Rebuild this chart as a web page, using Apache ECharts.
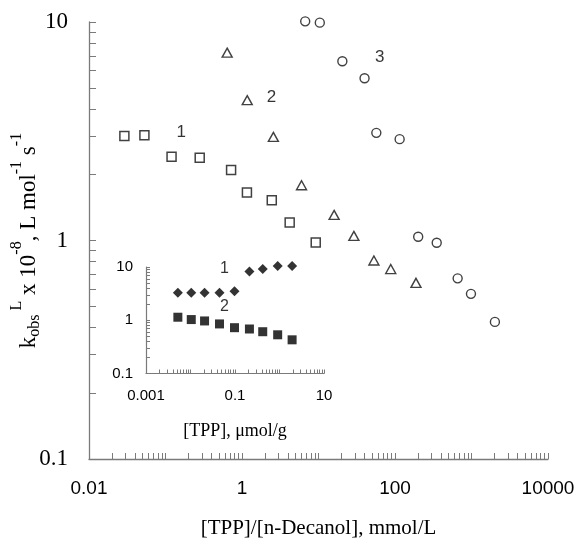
<!DOCTYPE html>
<html>
<head>
<meta charset="utf-8">
<script src="https://cdn.jsdelivr.net/npm/echarts@6/dist/echarts.min.js"></script>
<style>
html,body{margin:0;padding:0;background:#fff;}
#c{width:579px;height:544px;}
</style>
</head>
<body>
<div id="c"></div>
<script>
// ---- Main chart data ----
const series1X = [0.029, 0.053, 0.12, 0.28, 0.72, 1.16, 2.45, 4.2, 9.2];
const series1Y = [3.01, 3.03, 2.42, 2.39, 2.10, 1.66, 1.53, 1.21, 0.98];
const series2X = [0.64, 1.17, 2.57, 6.0, 16, 29, 53, 88, 188];
const series2Y = [7.24, 4.39, 2.98, 1.79, 1.31, 1.05, 0.81, 0.74, 0.64];
const series3X = [6.7, 10.4, 20.5, 40, 57, 115, 201, 351, 659, 984, 2023];
const series3Y = [10.07, 9.93, 6.61, 5.53, 3.11, 2.91, 1.04, 0.977, 0.671, 0.57, 0.424];
const mainLabelNames = ['1', '2', '3'];
const mainLabelX = [0.16, 2.43, 63];
const mainLabelY = [3.14, 4.54, 6.92];

// ---- Inset data ----
const insetX = [0.0052, 0.0104, 0.0207, 0.0449, 0.0974, 0.211, 0.42, 0.91, 1.92];
const inset1Y = [3.27, 3.27, 3.27, 3.27, 3.5, 8.2, 9.2, 10.4, 10.4];
const inset2Y = [1.14, 1.03, 0.97, 0.853, 0.725, 0.685, 0.609, 0.533, 0.429];
const insetLabelNames = ['1', '2'];
const insetLabelX = [0.058, 0.058];
const insetLabelY = [9.45, 1.77];

// ---- Tick labels ----
const mainXLabels = [0.01, 1, 100, 10000];
const mainYLabels = [0.1, 1, 10];
const insetXLabels = [0.001, 0.1, 10];
const insetYLabels = [0.1, 1, 10];

function logTicks(min, max) {
  const out = [];
  for (let e = Math.round(Math.log10(min)); e < Math.round(Math.log10(max)); e++) {
    for (let m = 1; m < 10; m++) out.push(+(m * Math.pow(10, e)).toPrecision(6));
  }
  out.push(max);
  return out;
}
function fmt(list) {
  return function (v) {
    let best = list[0], d = Infinity;
    for (const l of list) { const dd = Math.abs(Math.log10(l) - Math.log10(v)); if (dd < d) { d = dd; best = l; } }
    return String(best);
  };
}
const zip = (xs, ys) => xs.map((x, i) => [x, ys[i]]);

const AX = '#7a7a7a';
const SANS = 'Liberation Sans';
const SERIF = 'Liberation Serif';

const option = {
  animation: false,
  backgroundColor: '#fff',
  grid: [
    { left: 89, top: 22, right: 31, bottom: 85, outerBoundsMode: 'none', containLabel: false },
    { left: 146, top: 267, width: 178, height: 106.5, outerBoundsMode: 'none', containLabel: false }
  ],
  xAxis: [
    {
      type: 'log', logBase: 10, gridIndex: 0, min: 0.01, max: 10000,
      axisLine: { show: true, lineStyle: { color: AX, width: 1.3 } },
      axisTick: { show: true, inside: true, length: 6, customValues: logTicks(0.01, 10000), lineStyle: { color: AX, width: 1 } },
      axisLabel: { show: true, customValues: mainXLabels, formatter: fmt(mainXLabels), margin: 20, color: '#000', fontFamily: SANS, fontSize: 19 },
      splitLine: { show: false }, minorTick: { show: false },
      name: '[TPP]/[n-Decanol], mmol/L', nameLocation: 'middle', nameGap: 59, nameMoveOverlap: false,
      nameTextStyle: { color: '#000', fontFamily: SERIF, fontSize: 21 }
    },
    {
      type: 'log', logBase: 10, gridIndex: 1, min: 0.001, max: 10,
      axisLine: { show: true, lineStyle: { color: AX, width: 1.2 } },
      axisTick: { show: true, inside: true, length: 4, customValues: logTicks(0.001, 10), lineStyle: { color: AX, width: 1 } },
      axisLabel: { show: true, customValues: insetXLabels, formatter: fmt(insetXLabels), margin: 15, color: '#000', fontFamily: SANS, fontSize: 15 },
      splitLine: { show: false },
      name: '[TPP], \u03bcmol/g', nameLocation: 'middle', nameGap: 49, nameMoveOverlap: false,
      nameTextStyle: { color: '#000', fontFamily: SERIF, fontSize: 18 }
    }
  ],
  yAxis: [
    {
      type: 'log', logBase: 10, gridIndex: 0, min: 0.1, max: 10,
      axisLine: { show: true, lineStyle: { color: AX, width: 1.3 } },
      axisTick: { show: true, inside: true, length: 7, customValues: logTicks(0.1, 10), lineStyle: { color: AX, width: 1 } },
      axisLabel: { show: true, customValues: mainYLabels, formatter: fmt(mainYLabels), margin: 21, color: '#000', fontFamily: SERIF, fontSize: 23 },
      splitLine: { show: false },
      name: '{a|k}{b|obs}{c| L}{a| x 10}{c|-8}{a|, L mol}{c|-1}{a| s}{c|-1}',
      nameLocation: 'middle', nameRotate: 90, nameGap: 49, nameMoveOverlap: false,
      nameTextStyle: {
        color: '#000', fontFamily: SERIF, fontSize: 23,
        rich: {
          a: { fontFamily: SERIF, fontSize: 23, color: '#000', lineHeight: 31, verticalAlign: 'bottom' },
          b: { fontFamily: SERIF, fontSize: 16, color: '#000', lineHeight: 31, verticalAlign: 'bottom', padding: [0, 0, -3, 0] },
          c: { fontFamily: SERIF, fontSize: 16, color: '#000', lineHeight: 31, verticalAlign: 'top' }
        }
      }
    },
    {
      type: 'log', logBase: 10, gridIndex: 1, min: 0.1, max: 10,
      axisLine: { show: true, lineStyle: { color: AX, width: 1.2 } },
      axisTick: { show: true, inside: true, length: 4, customValues: logTicks(0.1, 10), lineStyle: { color: AX, width: 1 } },
      axisLabel: { show: true, customValues: insetYLabels, formatter: fmt(insetYLabels), margin: 13, color: '#000', fontFamily: SANS, fontSize: 15 },
      splitLine: { show: false }
    }
  ],
  series: [
    {
      type: 'scatter', xAxisIndex: 0, yAxisIndex: 0, data: zip(series1X, series1Y), clip: false,
      symbol: 'rect', symbolSize: 9,
      itemStyle: { color: '#fff', borderColor: '#111', borderWidth: 1.5 }
    },
    {
      type: 'scatter', xAxisIndex: 0, yAxisIndex: 0, data: zip(series2X, series2Y), clip: false,
      symbol: 'triangle', symbolSize: [10, 9],
      itemStyle: { color: '#fff', borderColor: '#111', borderWidth: 1.4 }
    },
    {
      type: 'scatter', xAxisIndex: 0, yAxisIndex: 0, data: zip(series3X, series3Y), clip: false,
      symbol: 'circle', symbolSize: 9,
      itemStyle: { color: '#fff', borderColor: '#111', borderWidth: 1.4 }
    },
    {
      type: 'scatter', xAxisIndex: 0, yAxisIndex: 0, symbolSize: 0, silent: true, clip: false,
      data: mainLabelNames.map((n, i) => ({ name: n, value: [mainLabelX[i], mainLabelY[i]] })),
      label: { show: true, position: 'inside', formatter: '{b}', color: '#000', fontFamily: SANS, fontSize: 17 }
    },
    {
      type: 'scatter', xAxisIndex: 1, yAxisIndex: 1, data: zip(insetX, inset1Y), clip: false,
      symbol: 'diamond', symbolSize: [10, 10],
      itemStyle: { color: '#000' }
    },
    {
      type: 'scatter', xAxisIndex: 1, yAxisIndex: 1, data: zip(insetX, inset2Y), clip: false,
      symbol: 'rect', symbolSize: 9,
      itemStyle: { color: '#000' }
    },
    {
      type: 'scatter', xAxisIndex: 1, yAxisIndex: 1, symbolSize: 0, silent: true, clip: false,
      data: insetLabelNames.map((n, i) => ({ name: n, value: [insetLabelX[i], insetLabelY[i]] })),
      label: { show: true, position: 'inside', formatter: '{b}', color: '#000', fontFamily: SANS, fontSize: 16 }
    }
  ]
};

const chart = echarts.init(document.getElementById('c'), null, { renderer: 'canvas' });
chart.setOption(option);
</script>
</body>
</html>
